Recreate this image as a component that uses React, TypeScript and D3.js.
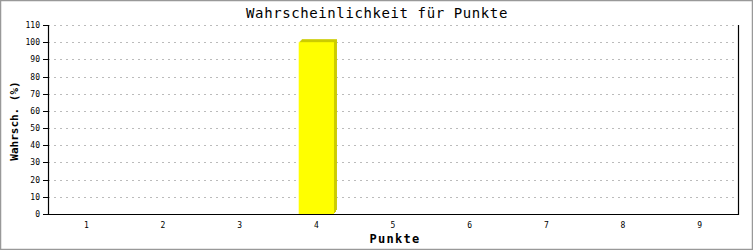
import React from "react";
import * as d3 from "d3";

const categories = ["1", "2", "3", "4", "5", "6", "7", "8", "9"];
const values = [0, 0, 0, 100, 0, 0, 0, 0, 0];
const yTicks = [0, 10, 20, 30, 40, 50, 60, 70, 80, 90, 100, 110];
const title = "Wahrscheinlichkeit für Punkte";
const xTitle = "Punkte";
const yTitle = "Wahrsch. (%)";

const W = 753;
const H = 250;
const M = { left: 48, right: 738, top: 25, bottom: 214 };
const FONT = "'DejaVu Sans Mono', 'Liberation Mono', monospace";

export default function App() {
  const x = d3.scaleBand<string>().domain(categories).range([M.left, M.right]);
  const y = d3.scaleLinear().domain([0, 110]).range([M.bottom, M.top]);
  const barW = x.bandwidth() * 0.46;
  return (
    <svg
      width={W}
      height={H}
      style={{ position: "absolute", left: 0, top: 0, background: "#fff" }}
    >
      <rect x={0.5} y={0.5} width={W - 1} height={H - 1} fill="#fff" stroke="#999" strokeWidth={1.5} />
      <text x={377} y={18} textAnchor="middle" fontFamily={FONT} fontSize={14} letterSpacing={0.6} fill="#000">
        {title}
      </text>
      {yTicks.map((t) => (
        <g key={t}>
          {t > 0 && (
            <line
              x1={M.left}
              x2={M.right}
              y1={Math.round(y(t)) + 0.5}
              y2={Math.round(y(t)) + 0.5}
              stroke="#bbb"
              strokeDasharray="2,4"
            />
          )}
          <line x1={M.left - 5} x2={M.left} y1={Math.round(y(t)) + 0.5} y2={Math.round(y(t)) + 0.5} stroke="#000" />
          <text x={M.left - 8} y={Math.round(y(t)) + 3} textAnchor="end" fontFamily={FONT} fontSize={8} fill="#000">
            {t}
          </text>
        </g>
      ))}
      {categories.map((c, i) => {
        const v = values[i];
        const cx = (x(c) as number) + x.bandwidth() / 2;
        const bx = cx - barW / 2;
        const top = y(v);
        return (
          <g key={c}>
            {v > 0 && (
              <>
                <rect x={bx + 3} y={top - 3} width={barW} height={M.bottom - top - 1} fill="#cccc00" />
                <rect x={bx + 2} y={top - 2} width={barW} height={M.bottom - top} fill="#cccc00" />
                <rect x={bx + 1} y={top - 1} width={barW} height={M.bottom - top} fill="#cccc00" />
                <rect x={bx} y={top} width={barW} height={M.bottom - top} fill="#ffff00" />
              </>
            )}
            <text x={cx} y={M.bottom + 14} textAnchor="middle" fontFamily={FONT} fontSize={8} fill="#000">
              {c}
            </text>
          </g>
        );
      })}
      <line x1={M.left + 0.5} x2={M.left + 0.5} y1={M.top} y2={M.bottom + 1} stroke="#000" strokeWidth={1.2} />
      <line x1={M.right + 0.5} x2={M.right + 0.5} y1={M.top} y2={M.bottom + 1} stroke="#000" strokeWidth={1.2} />
      <line x1={M.left} x2={M.right + 1} y1={M.bottom + 0.5} y2={M.bottom + 0.5} stroke="#000" strokeWidth={1.2} />
      <text x={395} y={243} textAnchor="middle" fontFamily={FONT} fontSize={12} fontWeight="bold" letterSpacing={1.3} fill="#000">
        {xTitle}
      </text>
      <text
        transform={`translate(18, 121) rotate(-90)`}
        textAnchor="middle"
        fontFamily={FONT}
        fontSize={11}
        fontWeight="bold"
        fill="#000"
      >
        {yTitle}
      </text>
    </svg>
  );
}
